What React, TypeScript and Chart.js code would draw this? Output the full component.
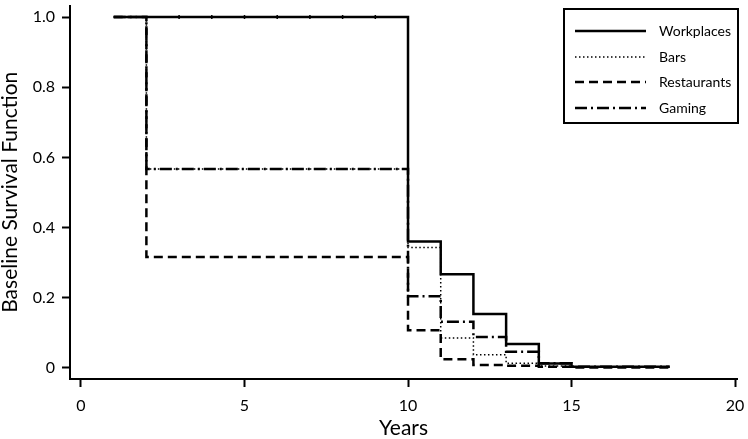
import React, { useEffect, useRef } from "react";
import { Chart, registerables } from "chart.js";

Chart.register(...registerables);

const years = [1, 2, 10, 11, 12, 13, 14, 15, 18];
const workplaces = [1, 1, 0.36, 0.267, 0.153, 0.068, 0.012, 0.003, 0.003];
const bars = [1, 0.567, 0.343, 0.085, 0.037, 0.013, 0.005, 0.002, 0.002];
const restaurants = [1, 0.316, 0.107, 0.024, 0.008, 0.006, 0.003, 0.001, 0.001];
const gaming = [1, 0.567, 0.204, 0.131, 0.088, 0.046, 0.013, 0.003, 0.003];
const censorYears = [3, 4, 5, 6, 7, 8, 9];
const censorValues = [1, 1, 1, 1, 1, 1, 1];

const xTicks = [0, 5, 10, 15, 20];
const yTicks = [0, 0.2, 0.4, 0.6, 0.8, 1.0];
const seriesNames = ["Workplaces", "Bars", "Restaurants", "Gaming"];

const FONT = "Lato, 'Open Sans', sans-serif";

const styles = [
  { width: 2.5, dash: [] as number[] },
  { width: 1.5, dash: [1.5, 2.5] },
  { width: 2.5, dash: [9, 5] },
  { width: 2.5, dash: [12, 4, 2, 4] },
];

const legendPlugin = {
  id: "boxLegend",
  afterDraw(chart: any) {
    const ctx = chart.ctx;
    const left = 564;
    const top = 9;
    const w = 174;
    const h = 114;
    ctx.save();
    ctx.strokeStyle = "#000";
    ctx.lineWidth = 2;
    ctx.setLineDash([]);
    ctx.fillStyle = "#fff";
    ctx.fillRect(left, top, w, h);
    ctx.strokeRect(left, top, w, h);
    ctx.font = `14px ${FONT}`;
    ctx.textBaseline = "middle";
    ctx.fillStyle = "#000";
    const rowsY = [31, 57, 82, 108];
    seriesNames.forEach((name, i) => {
      const y = rowsY[i];
      ctx.beginPath();
      ctx.lineWidth = styles[i].width;
      ctx.setLineDash(styles[i].dash);
      ctx.moveTo(left + 11, y);
      ctx.lineTo(left + 82, y);
      ctx.stroke();
      ctx.setLineDash([]);
      ctx.fillText(name, left + 95, y);
    });
    ctx.restore();
  },
};

const zeroPad = (s: any) => {
  s.paddingTop = 0;
  s.paddingBottom = 0;
  s.paddingLeft = 0;
  s.paddingRight = 0;
};

export default function App() {
  const ref = useRef<HTMLCanvasElement>(null);
  useEffect(() => {
    if (!ref.current) return;
    const mk = (vals: number[]) => years.map((x, i) => ({ x, y: vals[i] }));
    const all = [workplaces, bars, restaurants, gaming];
    const datasets: any[] = all.map((vals, i) => ({
      label: seriesNames[i],
      data: mk(vals),
      borderColor: "#000",
      borderWidth: styles[i].width,
      borderDash: styles[i].dash,
      stepped: "before",
      pointRadius: 0,
      fill: false,
      tension: 0,
    }));
    datasets.push({
      type: "scatter",
      label: "censored",
      data: censorYears.map((x, i) => ({ x, y: censorValues[i] })),
      pointStyle: "line",
      rotation: 90,
      pointRadius: 2,
      borderColor: "#000",
      borderWidth: 1.5,
      showLine: false,
    });
    const chart = new Chart(ref.current, {
      type: "line",
      data: { datasets },
      options: {
        animation: false,
        responsive: false,
        devicePixelRatio: 1,
        layout: { padding: { top: 4, right: 11, left: 0, bottom: 0 } },
        plugins: { legend: { display: false }, tooltip: { enabled: false } },
        scales: {
          x: {
            type: "linear",
            min: -0.336,
            max: 20.06,
            afterBuildTicks: (s: any) => {
              s.ticks = xTicks.map((v) => ({ value: v }));
            },
            afterFit: (s: any) => {
              s.height = 60;
              zeroPad(s);
            },
            ticks: {
              color: "#000",
              font: { family: FONT, size: 16 },
              padding: 9,
              maxRotation: 0,
              callback: (v: any) => String(v),
            },
            grid: {
              drawOnChartArea: false,
              tickLength: 8,
              tickWidth: 2,
              tickColor: "#000",
            },
            border: { display: true, color: "#000", width: 2 },
            title: {
              display: true,
              text: "Years",
              color: "#000",
              font: { family: FONT, size: 21, lineHeight: 1 },
              padding: { top: 0, bottom: 0 },
            },
          },
          y: {
            type: "linear",
            min: -0.032,
            max: 1.033,
            afterBuildTicks: (s: any) => {
              s.ticks = yTicks.map((v) => ({ value: v }));
            },
            afterFit: (s: any) => {
              s.width = 70;
              zeroPad(s);
            },
            ticks: {
              color: "#000",
              font: { family: FONT, size: 16 },
              padding: 7,
              callback: (v: any) => (v === 0 ? "0" : Number(v).toFixed(1)),
            },
            grid: {
              drawOnChartArea: false,
              tickLength: 8,
              tickWidth: 2,
              tickColor: "#000",
            },
            border: { display: true, color: "#000", width: 2 },
            title: {
              display: true,
              text: "Baseline Survival Function",
              color: "#000",
              font: { family: FONT, size: 21, lineHeight: 1 },
              padding: { top: 0, bottom: 0 },
            },
          },
        },
      },
      plugins: [legendPlugin],
    });
    return () => chart.destroy();
  }, []);
  return (
    <div style={{ position: "fixed", left: 0, top: 0, width: 748, height: 439, background: "#fff" }}>
      <canvas ref={ref} width={748} height={439} />
    </div>
  );
}
